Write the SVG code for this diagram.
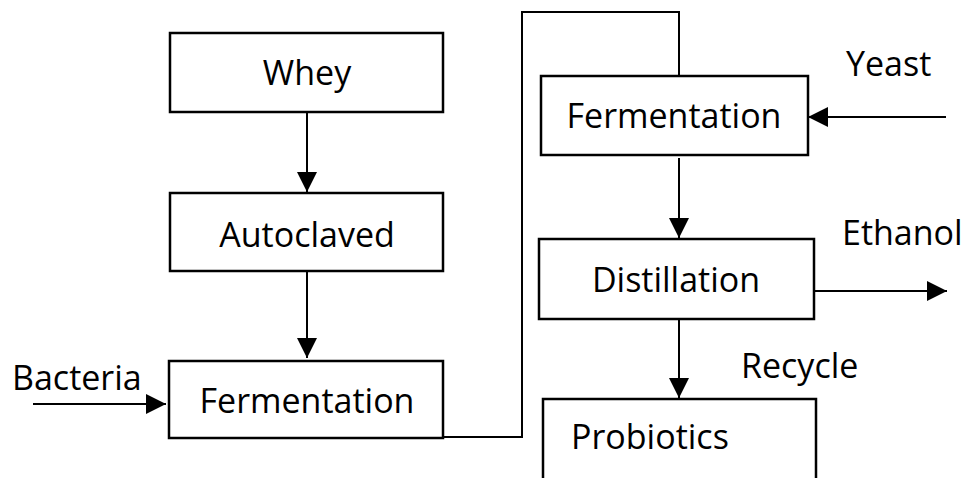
<svg xmlns="http://www.w3.org/2000/svg" width="964" height="478" viewBox="0 0 964 478">
<style>
.box{fill:#fff;stroke:#000;stroke-width:2.5}
.ln{fill:none;stroke:#000;stroke-width:2}
text{font-family:"Open Sans","Noto Sans",sans-serif;font-size:34px;fill:#000}
.c{text-anchor:middle}
</style>
<defs>
<marker id="ah" markerUnits="userSpaceOnUse" markerWidth="22" markerHeight="22" refX="20" refY="10" orient="auto">
<path d="M0,0 L20,10 L0,20 Z" fill="#000"/>
</marker>
</defs>
<rect width="964" height="478" fill="#fff"/>
<g id="connectors">
<line class="ln" x1="307" y1="112" x2="307" y2="192" marker-end="url(#ah)"/>
<line class="ln" x1="307" y1="271" x2="307" y2="358" marker-end="url(#ah)"/>
<line class="ln" x1="33" y1="404" x2="166" y2="404" marker-end="url(#ah)"/>
<polyline class="ln" points="443,437 522,437 522,12 679,12 679,76"/>
<line class="ln" x1="946" y1="117" x2="808" y2="117" marker-end="url(#ah)"/>
<line class="ln" x1="679" y1="158" x2="679" y2="238" marker-end="url(#ah)"/>
<line class="ln" x1="814" y1="291" x2="947" y2="291" marker-end="url(#ah)"/>
<line class="ln" x1="679" y1="319" x2="679" y2="398" marker-end="url(#ah)"/>
</g>
<g id="whey"><rect class="box" x="170" y="33" width="273" height="79"/><text class="c" x="307" y="85">Whey</text></g>
<g id="autoclaved"><rect class="box" x="170" y="193" width="273" height="78"/><text class="c" x="307" y="247">Autoclaved</text></g>
<g id="fermentation1"><rect class="box" x="169" y="361" width="274" height="77"/><text class="c" x="307" y="413">Fermentation</text></g>
<g id="bacteria"><text x="12" y="390">Bacteria</text></g>
<g id="fermentation2"><rect class="box" x="541" y="76" width="267" height="79"/><text class="c" x="674" y="128">Fermentation</text></g>
<g id="yeast"><text x="846" y="76">Yeast</text></g>
<g id="distillation"><rect class="box" x="539" y="239" width="275" height="80"/><text class="c" x="676" y="292">Distillation</text></g>
<g id="ethanol"><text x="842" y="245">Ethanol</text></g>
<g id="recycle"><text x="741" y="378">Recycle</text></g>
<g id="probiotics"><rect class="box" x="543" y="399" width="273" height="85"/><text x="571" y="449">Probiotics</text></g>
</svg>
